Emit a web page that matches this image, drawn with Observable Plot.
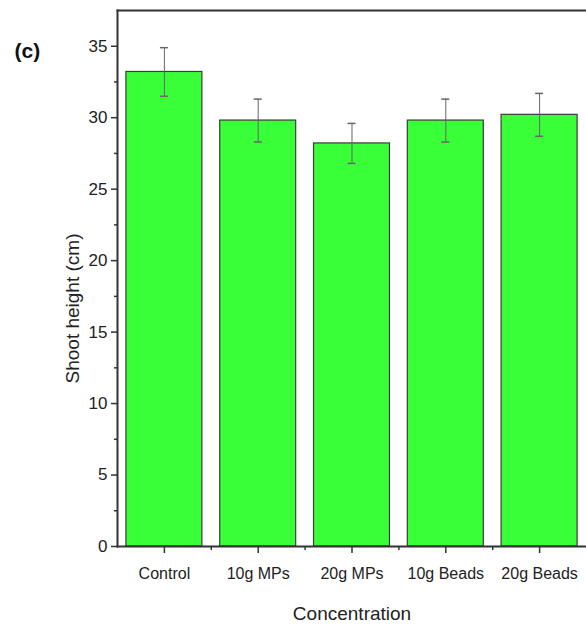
<!DOCTYPE html>
<html>
<head>
<meta charset="utf-8">
<script src="https://cdn.jsdelivr.net/npm/d3@7"></script>
<script src="https://cdn.jsdelivr.net/npm/@observablehq/plot@0.6"></script>
<style>
  html, body { margin: 0; padding: 0; background: #fff; }
  #chart svg { display: block; }
</style>
</head>
<body>
<div id="chart"></div>
<script>
const categories = ["Control", "10g MPs", "20g MPs", "10g Beads", "20g Beads"];
const means = [33.2, 29.8, 28.2, 29.8, 30.2];
const errors = [1.7, 1.5, 1.4, 1.5, 1.5];
const majorTicks = [0, 5, 10, 15, 20, 25, 30, 35];
const minorTicks = [2.5, 7.5, 12.5, 17.5, 22.5, 27.5, 32.5];
const panelLabel = "(c)";
const yLabel = "Shoot height (cm)";
const xLabel = "Concentration";

const data = categories.map((c, i) => ({cat: c, mean: means[i], lo: means[i] - errors[i], hi: means[i] + errors[i]}));

const W = 586, H = 631;
const mL = 117, mR = 0, mT = 10, mB = 85;
const padInner = 0.19;
const step = (W - mL - mR) / categories.length;
const bw = step * (1 - padInner);
const capW = 8;
const sans = "'Liberation Sans', Arial, sans-serif";

const chart = Plot.plot({
  width: W, height: H,
  marginLeft: mL, marginRight: mR, marginTop: mT, marginBottom: mB,
  style: {fontFamily: sans, background: "#fff", color: "#222"},
  x: {domain: categories, paddingInner: padInner, paddingOuter: padInner / 2, align: 0.5, round: false, label: null},
  y: {domain: [0, 37.5], label: null},
  marks: [
    Plot.barY(data, {x: "cat", y: "mean", fill: "#39ff39", stroke: "#3a3a3a", strokeWidth: 1.2}),
    Plot.ruleX(data, {x: "cat", y1: "lo", y2: "hi", stroke: "#666", strokeWidth: 1}),
    Plot.tickY(data, {x: "cat", y: "hi", stroke: "#666", strokeWidth: 1.5, insetLeft: (bw - capW) / 2, insetRight: (bw - capW) / 2}),
    Plot.tickY(data, {x: "cat", y: "lo", stroke: "#666", strokeWidth: 1.5, insetLeft: (bw - capW) / 2, insetRight: (bw - capW) / 2}),
    Plot.frame({anchor: "top", stroke: "#333", strokeWidth: 2}),
    Plot.frame({anchor: "left", stroke: "#333", strokeWidth: 2}),
    Plot.frame({anchor: "bottom", stroke: "#333", strokeWidth: 2}),
    Plot.axisY(majorTicks, {anchor: "left", tickSize: 6, tickPadding: 4, stroke: "#333", strokeWidth: 1.5, fontSize: 17, fill: "#222", label: null}),
    Plot.axisY(minorTicks, {anchor: "left", tickSize: 3, stroke: "#333", strokeWidth: 1.5, text: null, label: null}),
    Plot.axisX({anchor: "bottom", tickSize: 7, tickPadding: 14, stroke: "#333", strokeWidth: 1.5, fontSize: 16, fill: "#222", label: null}),
    Plot.axisX(categories.slice(1), {anchor: "bottom", tickSize: 4, dx: -step / 2, stroke: "#333", strokeWidth: 1.5, text: null, label: null}),
    Plot.text([yLabel], {frameAnchor: "left", text: d => d, rotate: -90, textAnchor: "middle", lineAnchor: "middle", dx: -45, dy: 30, fontSize: 19, fill: "#222"}),
    Plot.text([xLabel], {frameAnchor: "bottom", text: d => d, textAnchor: "middle", dy: 73, fontSize: 19, fill: "#222"}),
    Plot.text([panelLabel], {frameAnchor: "top-left", text: d => d, dx: -103, dy: 33, textAnchor: "start", fontSize: 21, fontWeight: "bold", fill: "#111"})
  ]
});
document.getElementById("chart").appendChild(chart);
</script>
</body>
</html>
